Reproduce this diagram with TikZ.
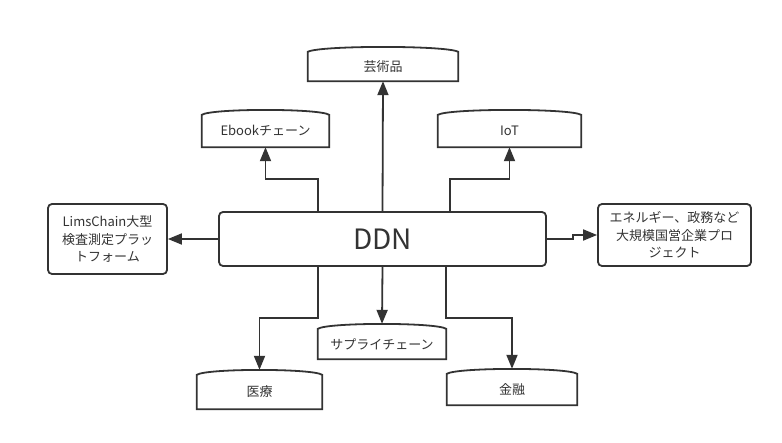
\documentclass[tikz,border=0pt]{standalone}
\usepackage{fontspec}
\setmainfont{Noto Sans CJK JP}
\usepackage{xcolor}
\usepackage{tikz}
\usetikzlibrary{calc}
\usetikzlibrary{arrows.meta,positioning}

\definecolor{lineclr}{HTML}{333333}

\tikzset{
	boxline/.style={draw=lineclr,line width=1.8pt},
	tag/.style={inner sep=0pt,text=lineclr,font=\fontsize{13}{17.5}\selectfont},
	card/.style={tag,boxline,rounded corners=4pt,align=center},
	link/.style={draw=lineclr,line width=1.8pt,-{Triangle[length=14pt,width=11pt]}},
}

\begin{document}
\begin{tikzpicture}[x=1pt,y=1pt]
	\useasboundingbox (0,0) rectangle (782,442);
	\node[card,minimum width=327pt,minimum height=54pt,font=\fontsize{28}{30}\selectfont] (ddn) at (382.5,203) {DDN};
	\node[tag,minimum width=150pt,minimum height=29pt] (art) at (383,375.5) {芸術品};
	\node[tag,minimum width=127pt,minimum height=32pt] (ebook) at (265.5,311) {Ebookチェーン};
	\node[tag,minimum width=143pt,minimum height=32pt] (iot) at (509.5,311) {IoT};
	\node[card,minimum width=119pt,minimum height=70pt] (lims) at (107.5,203) {LimsChain大型\\検査測定プラッ\\トフォーム};
	\node[card,minimum width=153pt,minimum height=62pt] (energy) at (674.5,207) {エネルギー、政務など\\大規模国営企業プロ\\ジェクト};
	\node[tag,minimum width=125pt,minimum height=34pt] (medical) at (259.5,50) {医療};
	\node[tag,minimum width=128pt,minimum height=30pt] (supply) at (382,98) {サプライチェーン};
	\node[tag,minimum width=130pt,minimum height=31pt] (finance) at (512,52.5) {金融};
	% arched tops
	\foreach \n in {art,ebook,iot,medical,supply,finance}
		\draw[boxline] (\n.south west) -- (\n.north west)
			.. controls ($(\n.north west)!0.08!(\n.north east)+(0,6.5)$) and ($(\n.north west)!0.92!(\n.north east)+(0,6.5)$) .. (\n.north east)
			-- (\n.south east) -- cycle;
	% links
	\draw[link] (ddn.north) -- (art.south);
	\draw[link] ([xshift=-64.5pt]ddn.north) -- ++(0,32) -| (ebook.south);
	\draw[link] ([xshift=67.5pt]ddn.north) -- ++(0,32) -| (iot.south);
	\draw[link] (ddn.west) -- (lims.east);
	\draw[link] (ddn.east) -- ++(26,0) |- (energy.west);
	\draw[link] ([xshift=-64.5pt]ddn.south) -- ++(0,-51) -| ([yshift=5pt]medical.north);
	\draw[link] (ddn.south) -- ([yshift=5pt]supply.north);
	\draw[link] ([xshift=63.5pt]ddn.south) -- ++(0,-51) -| ([yshift=5pt]finance.north);
\end{tikzpicture}
\end{document}
